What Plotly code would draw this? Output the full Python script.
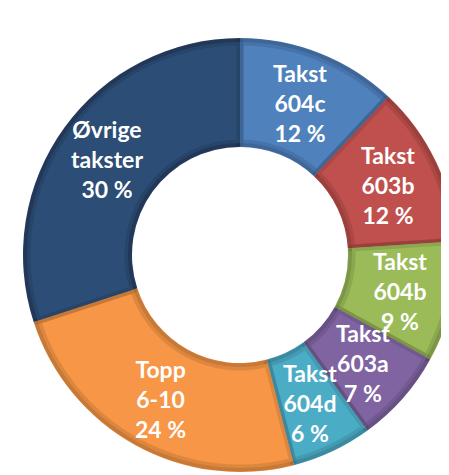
import math
import plotly.graph_objects as go

# Data
labels = ["Takst 604c", "Takst 603b", "Takst 604b", "Takst 603a", "Takst 604d", "Topp 6-10", "Øvrige takster"]
label_lines = [["Takst", "604c"], ["Takst", "603b"], ["Takst", "604b"], ["Takst", "603a"],
               ["Takst", "604d"], ["Topp", "6-10"], ["Øvrige", "takster"]]
values = [12, 12, 9, 7, 6, 24, 30]
colors = ["#4F81BD", "#C0504D", "#9BBB59", "#8064A2", "#4BACC6", "#F79646", "#2C4D75"]
dark_colors = ["#4673A9", "#AC4845", "#8BA850", "#735A91", "#439AB2", "#DE873F", "#273F63"]

W, H = 449, 475
cx, cy = 232, 247          # pie centre in px (from top-left)
R_outer, R_inner = 217, 108
inset = 4
R2_outer, R2_inner = R_outer - inset, R_inner + inset
r_label = 164


def domain(r):
    cyb = H - cy
    return dict(x=[(cx - r) / W, (cx + r) / W], y=[(cyb - r) / H, (cyb + r) / H])


fig = go.Figure()
fig.add_trace(go.Pie(
    labels=labels, values=values, sort=False, direction="clockwise", rotation=0,
    hole=R_inner / R_outer, domain=domain(R_outer),
    marker=dict(colors=dark_colors, line=dict(width=0)),
    textinfo="none", hoverinfo="skip", showlegend=False,
))
fig.add_trace(go.Pie(
    labels=labels, values=values, sort=False, direction="clockwise", rotation=0,
    hole=R2_inner / R2_outer, domain=domain(R2_outer),
    marker=dict(colors=colors, line=dict(width=7, color="rgba(0,0,0,0.10)")),
    textinfo="none", showlegend=False,
))

total = sum(values)
cum = 0
annotations = []
for lines, v in zip(label_lines, values):
    mid = (cum + v / 2) / total * 2 * math.pi
    cum += v
    xp = cx + r_label * math.sin(mid)
    yp = cy - r_label * math.cos(mid)
    pct = f"{round(v / total * 100)} %"
    annotations.append(dict(
        x=xp / W, y=1 - yp / H, xref="paper", yref="paper",
        text="<br>".join(lines + [pct]), showarrow=False,
        font=dict(family="Lato", size=23, color="white", weight="bold"),
        xanchor="center", yanchor="middle", align="center",
    ))

fig.update_layout(
    width=W, height=H, margin=dict(l=0, r=0, t=0, b=0),
    paper_bgcolor="white", plot_bgcolor="white",
    annotations=annotations, showlegend=False,
)
fig.write_html("out.html")
